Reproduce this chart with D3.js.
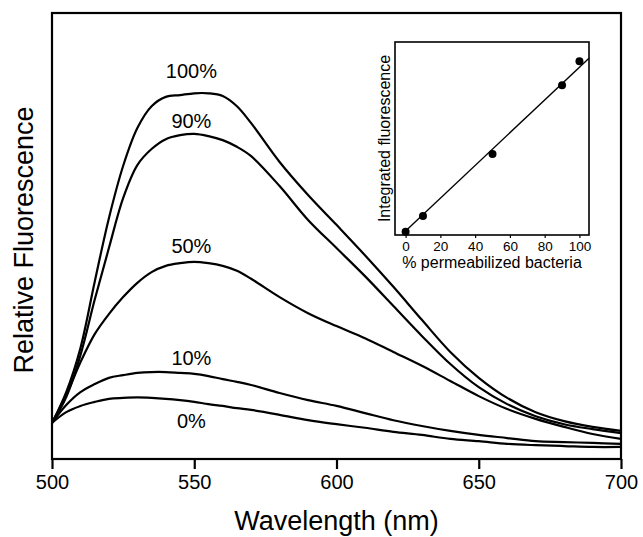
<!DOCTYPE html>
<html>
<head>
<meta charset="utf-8">
<script src="https://cdn.jsdelivr.net/npm/d3@7"></script>
<style>
  body { margin: 0; background: #fff; }
  text { font-family: "Liberation Sans", Arial, Helvetica, sans-serif; fill: #000; }
</style>
</head>
<body>
<main></main>
<script>
// emission spectra, wavelength in nm
var wavelengths = [500, 505, 510, 515, 520, 525, 530, 535, 540, 545, 550, 555, 560, 565, 570,
                   580, 590, 600, 610, 620, 630, 640, 650, 660, 670, 680, 690, 700];
var seriesNames = ["100%", "90%", "50%", "10%", "0%"];
var fluor100 = [8.1, 15.0, 24.9, 39.7, 54.0, 65.7, 74.2, 79.1, 81.2, 81.6, 82.0, 82.0, 81.4, 79.1, 75.3,
                66.6, 59.2, 52.5, 45.7, 38.6, 31.2, 24.0, 18.2, 13.7, 10.5, 8.5, 7.2, 6.3];
var fluor90 = [8.1, 13.9, 23.3, 35.7, 47.3, 58.5, 65.9, 69.5, 71.7, 72.6, 72.9, 72.4, 71.5, 70.0, 67.9,
               61.2, 53.6, 47.3, 41.0, 34.3, 27.6, 21.3, 16.1, 12.3, 9.6, 7.8, 6.7, 5.8];
var fluor50 = [8.1, 14.3, 21.7, 28.0, 32.5, 36.3, 39.5, 41.9, 43.3, 43.9, 44.2, 43.9, 43.3, 42.2, 40.4,
               36.3, 32.7, 29.8, 27.1, 24.0, 20.9, 17.5, 14.1, 11.2, 9.0, 7.2, 5.6, 4.5];
var fluor10 = [8.1, 12.1, 15.0, 16.8, 18.2, 18.8, 19.3, 19.5, 19.5, 19.3, 19.1, 18.6, 17.9, 17.3, 16.6,
               14.8, 13.2, 11.9, 10.3, 8.7, 7.4, 6.3, 5.4, 4.7, 4.0, 3.8, 3.6, 3.4];
var fluor0 = [8.1, 10.5, 11.9, 12.8, 13.5, 13.7, 13.8, 13.7, 13.5, 13.2, 12.8, 12.3, 11.9, 11.4, 11.0,
              9.9, 8.7, 7.8, 7.0, 6.1, 5.4, 4.5, 4.0, 3.4, 3.1, 2.9, 2.7, 2.7];
// where each curve label sits (wavelength, fluorescence)
var labelPos = [[549, 85.5], [549, 74.2], [549, 46.2], [549, 21.0], [549, 6.9]];
var xTicks = [500, 550, 600, 650, 700];

// inset: integrated fluorescence vs % permeabilized
var insetPct = [0, 10, 50, 90, 100];
var insetIntegrated = [1.7, 9.8, 42.0, 77.6, 90.0];
var fitPct = [-1.4, 105.5];
var fitIntegrated = [0.9, 91.6];
var insetTicks = [0, 20, 40, 60, 80, 100];

var W = 643, H = 537;
var margin = { top: 13, right: 22, bottom: 78, left: 52 };

var svg = d3.select("main")
            .append("svg")
            .attr("width", W)
            .attr("height", H);

var x = d3.scaleLinear().domain([500, 700]).range([margin.left, W - margin.right]);
var y = d3.scaleLinear().domain([0, 100]).range([H - margin.bottom, margin.top]);

var series = [fluor100, fluor90, fluor50, fluor10, fluor0];

var line = d3.line()
             .x(function(d, i) { return x(wavelengths[i]); })
             .y(function(d) { return y(d); })
             .curve(d3.curveCatmullRom.alpha(0.5));

svg.append("g")
   .selectAll("path")
   .data(series)
   .enter()
   .append("path")
   .attr("d", line)
   .attr("fill", "none")
   .attr("stroke", "#000")
   .attr("stroke-width", 2.2);

svg.append("g")
   .selectAll("text")
   .data(seriesNames)
   .enter()
   .append("text")
   .attr("x", function(d, i) { return x(labelPos[i][0]); })
   .attr("y", function(d, i) { return y(labelPos[i][1]); })
   .attr("text-anchor", "middle")
   .attr("font-size", "20px")
   .text(function(d) { return d; });

// frame
svg.append("rect")
   .attr("x", x(500))
   .attr("y", y(100))
   .attr("width", x(700) - x(500))
   .attr("height", y(0) - y(100))
   .attr("fill", "none")
   .attr("stroke", "#000")
   .attr("stroke-width", 2.2);

var xAxis = svg.append("g")
   .attr("transform", "translate(0," + y(0) + ")")
   .call(d3.axisBottom(x).tickValues(xTicks).tickSize(10).tickPadding(6).tickFormat(d3.format("d")));
xAxis.select(".domain").remove();
xAxis.selectAll("line").attr("stroke-width", 2.2);
xAxis.selectAll("text")
     .attr("font-size", "20px")
     .attr("font-family", "Liberation Sans, Arial, sans-serif");

svg.append("text")
   .attr("x", (x(500) + x(700)) / 2)
   .attr("y", 530)
   .attr("text-anchor", "middle")
   .attr("font-size", "27px")
   .text("Wavelength (nm)");

svg.append("text")
   .attr("transform", "translate(33," + ((y(0) + y(100)) / 2 + 4) + ") rotate(-90)")
   .attr("text-anchor", "middle")
   .attr("font-size", "27px")
   .text("Relative Fluorescence");

// inset
var xi = d3.scaleLinear().domain([-6.1, 105.5]).range([395, 589]);
var yi = d3.scaleLinear().domain([0, 100]).range([235, 42]);

var inset = svg.append("g");
inset.append("rect")
     .attr("x", xi(-6.1))
     .attr("y", yi(100))
     .attr("width", xi(105.5) - xi(-6.1))
     .attr("height", yi(0) - yi(100))
     .attr("fill", "#fff")
     .attr("stroke", "#000")
     .attr("stroke-width", 1.6);

var insetAxis = inset.append("g")
     .attr("transform", "translate(0," + yi(0) + ")")
     .call(d3.axisBottom(xi).tickValues(insetTicks).tickSize(3).tickPadding(3));
insetAxis.select(".domain").remove();
insetAxis.selectAll("line").attr("stroke-width", 1.2);
insetAxis.selectAll("text")
         .attr("font-size", "13.5px")
         .attr("font-family", "Liberation Sans, Arial, sans-serif");

inset.append("path")
     .datum(fitPct)
     .attr("d", d3.line()
                  .x(function(d) { return xi(d); })
                  .y(function(d, i) { return yi(fitIntegrated[i]); }))
     .attr("stroke", "#000")
     .attr("stroke-width", 1.4)
     .attr("fill", "none");

inset.selectAll("circle")
     .data(insetPct)
     .enter()
     .append("circle")
     .attr("cx", function(d) { return xi(d); })
     .attr("cy", function(d, i) { return yi(insetIntegrated[i]); })
     .attr("r", 4)
     .attr("fill", "#000");

inset.append("text")
     .attr("x", (xi(-6.1) + xi(105.5)) / 2)
     .attr("y", 268)
     .attr("text-anchor", "middle")
     .attr("font-size", "16px")
     .text("% permeabilized bacteria");

inset.append("text")
     .attr("transform", "translate(390," + ((yi(0) + yi(100)) / 2) + ") rotate(-90)")
     .attr("text-anchor", "middle")
     .attr("font-size", "16px")
     .text("Integrated fluorescence");
</script>
</body>
</html>
